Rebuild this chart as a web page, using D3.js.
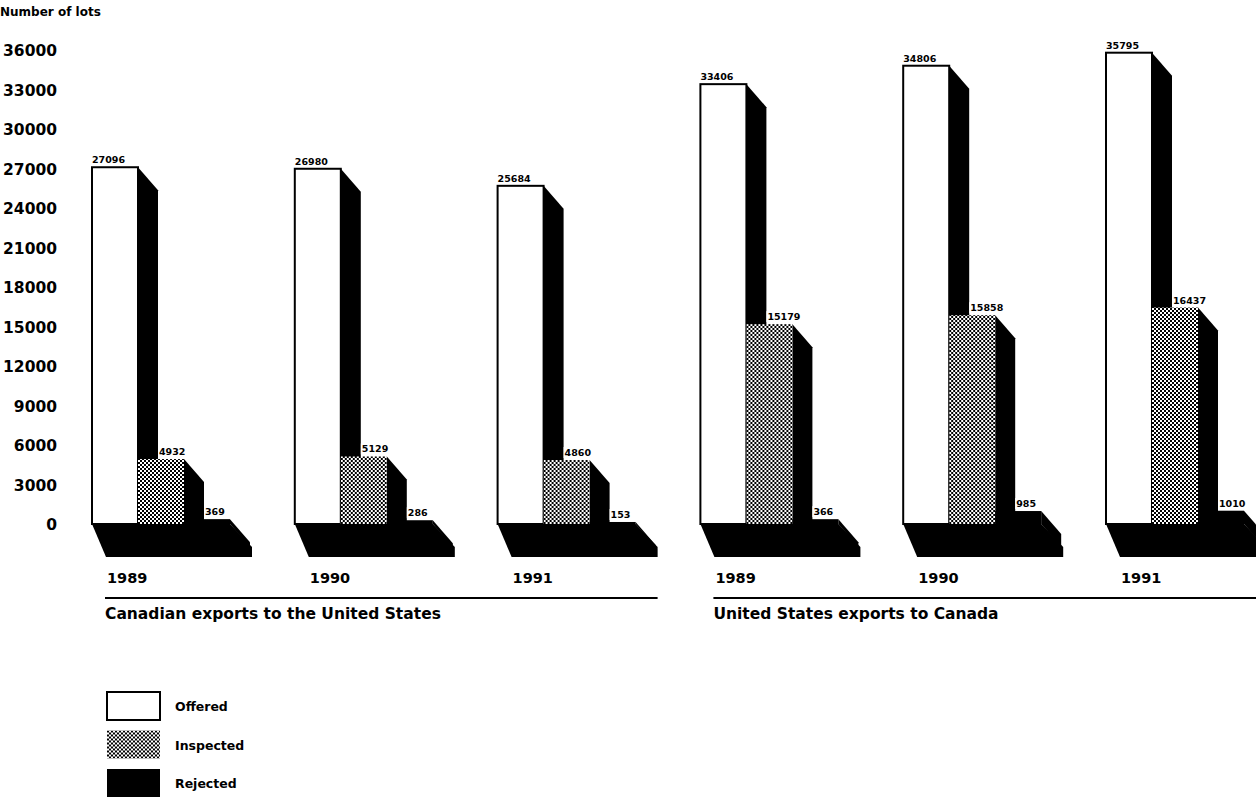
<!DOCTYPE html>
<html><head><meta charset="utf-8">
<script src="https://cdn.jsdelivr.net/npm/d3@7"></script>
<style>html,body{margin:0;padding:0;background:#fff;}svg{display:block;font-family:"DejaVu Sans",sans-serif;font-weight:bold;}</style>
</head><body><svg id="chart" width="1256" height="800"></svg>
<script>
const groupTitles = ["Canadian exports to the United States", "United States exports to Canada"];
const years = ["1989", "1990", "1991", "1989", "1990", "1991"];
const groupOf = [0, 0, 0, 1, 1, 1];
const seriesNames = ["Offered", "Inspected", "Rejected"];
const offered = [27096, 26980, 25684, 33406, 34806, 35795];
const inspected = [4932, 5129, 4860, 15179, 15858, 16437];
const rejected = [369, 286, 153, 366, 985, 1010];
const yTicks = [0, 3000, 6000, 9000, 12000, 15000, 18000, 21000, 24000, 27000, 30000, 33000, 36000];
const yTitle = "Number of lots";

const svg = d3.select("#chart");
const defs = svg.append("defs");
const pat = defs.append("pattern").attr("id", "hatch").attr("width", 4).attr("height", 4)
  .attr("patternUnits", "userSpaceOnUse");
pat.append("rect").attr("width", 4).attr("height", 4).attr("fill", "#fff");
pat.append("rect").attr("x", 0).attr("y", 0).attr("width", 2).attr("height", 2).attr("fill", "#000");
pat.append("rect").attr("x", 2).attr("y", 2).attr("width", 2).attr("height", 2).attr("fill", "#000");

const fills = {Offered: "#fff", Inspected: "url(#hatch)", Rejected: "#000"};

const y = d3.scaleLinear().domain([0, 36000]).range([524, 50]);
const xg = d3.scaleBand().domain(d3.range(years.length)).range([92, 92 + 6 * 202.8]).padding(0).align(0);
const xs = d3.scaleBand().domain(seriesNames).range([0, 138]);
const DX = 20, DY = 23;
const base = y(0);

// y axis
const yAxis = d3.axisLeft(y).tickValues(yTicks).tickSize(0).tickPadding(0).tickFormat(d3.format("d"));
const ag = svg.append("g").attr("transform", "translate(57,0)").call(yAxis);
ag.select(".domain").remove();
ag.selectAll("text").attr("font-family", "DejaVu Sans").attr("font-weight", "bold")
  .attr("font-size", 15.5).attr("fill", "#000").attr("dy", "0.36em");
svg.append("text").attr("x", 0).attr("y", 16).attr("font-size", 12).text(yTitle);

const data = years.map((yr, i) => ({i, yr, vals: {Offered: offered[i], Inspected: inspected[i], Rejected: rejected[i]}}));

const g = svg.selectAll("g.grp").data(data).join("g").attr("class", "grp")
  .attr("transform", d => `translate(${xg(d.i)},0)`);

// floor slab
g.append("path").attr("fill", "#000").attr("d", () => {
  const w = xs.range()[1];
  return `M0,${base} L${w},${base} L${w + DX + 2},${base + DY} L${w + DX + 2},${base + 33} L14,${base + 33} Z`;
});

seriesNames.forEach(s => {
  const bw = xs.bandwidth();
  g.append("path").attr("fill", "#000").attr("d", d => {
    const x0 = xs(s) + bw, t = y(d.vals[s]);
    return `M${x0},${t} L${x0 + DX},${t + DY} L${x0 + DX},${base + DY} L${x0},${base} Z`;
  });
  g.append("rect").attr("x", xs(s)).attr("y", d => y(d.vals[s]))
    .attr("width", bw).attr("height", d => base - y(d.vals[s]))
    .attr("fill", fills[s])
    .attr("stroke", s === "Offered" ? "#000" : "none").attr("stroke-width", s === "Offered" ? 2 : 0);
});

// value labels
seriesNames.forEach((s, k) => {
  const lg = g.append("g");
  lg.append("text").attr("font-size", 9.5)
    .attr("x", xs(s) + (k === 0 ? 0 : DX + 1))
    .attr("y", d => y(d.vals[s]) - 4)
    .text(d => d.vals[s]);
  lg.each(function() {
    const bb = d3.select(this).select("text").node().getBBox();
    d3.select(this).insert("rect", "text").attr("x", bb.x - 1).attr("y", bb.y)
      .attr("width", bb.width + 2).attr("height", bb.height).attr("fill", "#fff");
  });
});

// year labels
g.append("text").attr("x", 15).attr("y", 583).attr("font-size", 14.5).text(d => d.yr);

// group rules and titles
const grpExtent = groupTitles.map((t, gi) => {
  const idx = d3.range(years.length).filter(i => groupOf[i] === gi);
  return {t, x1: xg(idx[0]) + 13, x2: Math.min(1256, xg(idx[idx.length - 1]) + 160)};
});
svg.selectAll("line.rule").data(grpExtent).join("line").attr("class", "rule")
  .attr("x1", d => d.x1).attr("x2", d => d.x2).attr("y1", 598).attr("y2", 598)
  .attr("stroke", "#000").attr("stroke-width", 2);
svg.selectAll("text.gt").data(grpExtent).join("text").attr("class", "gt")
  .attr("x", d => d.x1).attr("y", 619).attr("font-size", 15.5).text(d => d.t);

// legend
const leg = svg.selectAll("g.leg").data(seriesNames).join("g").attr("class", "leg")
  .attr("transform", (d, i) => `translate(107,${692 + i * 38.5})`);
leg.append("rect").attr("width", 53).attr("height", 28).attr("fill", d => fills[d])
  .attr("stroke", d => d === "Offered" ? "#000" : "none").attr("stroke-width", 2);
leg.append("text").attr("x", 68).attr("y", 19).attr("font-size", 12.5).text(d => d);
</script></body></html>
